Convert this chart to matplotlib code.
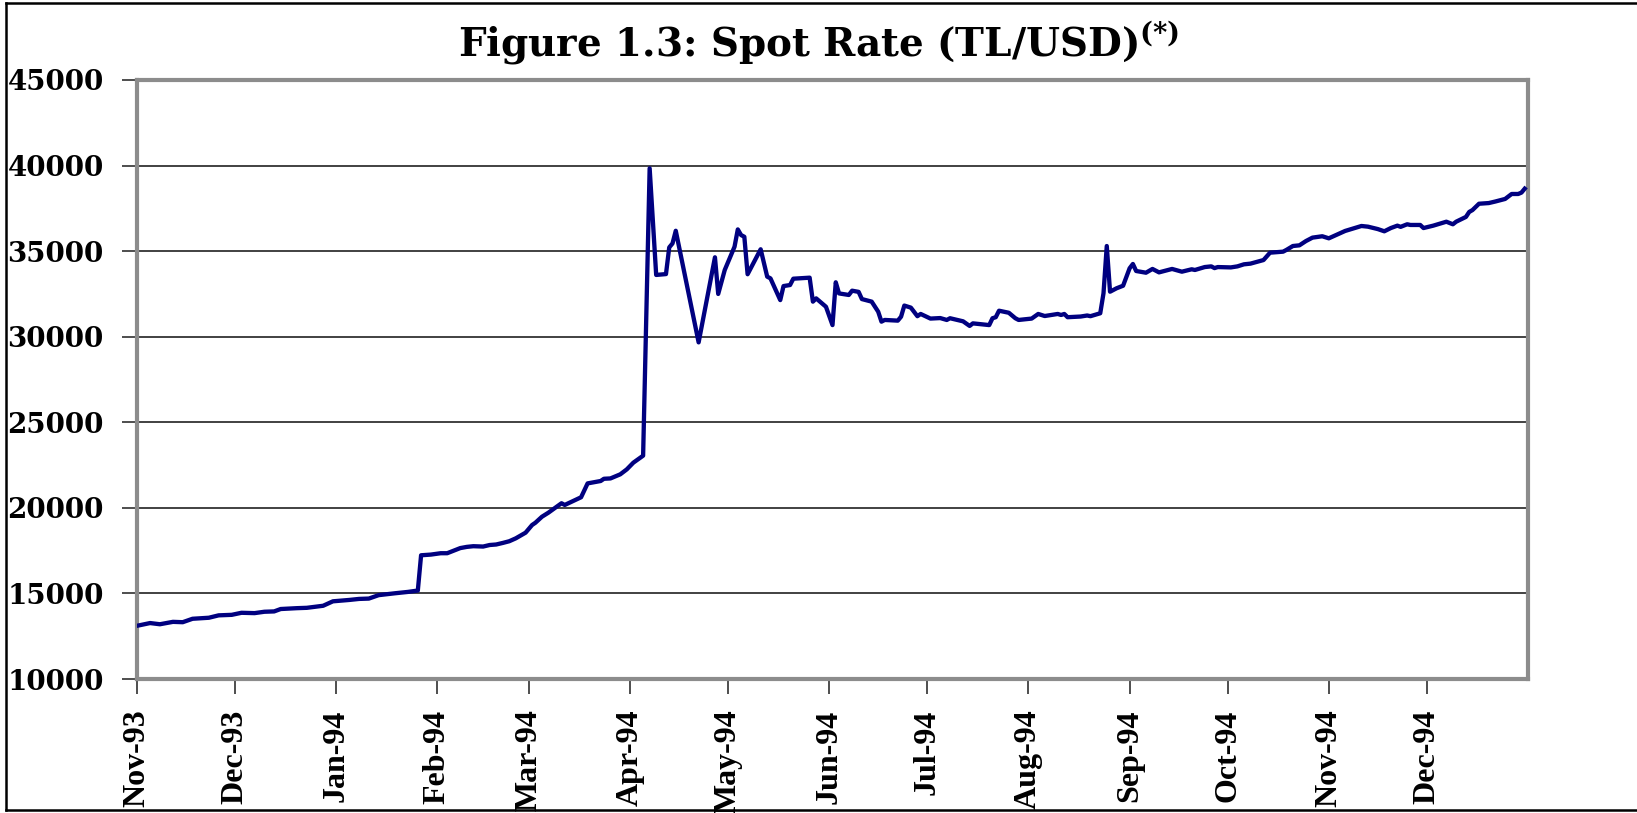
import numpy as np
import matplotlib.pyplot as plt
import matplotlib.dates as mdates
from matplotlib.lines import Line2D

plt.rcParams['mathtext.fontset'] = 'dejavuserif'

# days counted from 1 Nov 1993, spot rate in TL per USD
start = np.datetime64('1993-11-01')
day = [0, 4, 7, 11, 14, 17, 22, 25, 29, 32, 36, 39, 42, 44, 49, 52, 57, 60,
       65, 68, 71, 74, 79, 83, 86, 87, 90, 93, 95, 99, 101, 103, 106, 108,
       110, 112, 114, 116, 119, 121, 122, 124, 126, 130, 131, 136, 138, 142,
       143, 145, 148, 150, 152, 155, 157, 159, 162, 163, 164, 165, 172, 177,
       178, 180, 183, 184, 185, 186, 187, 191, 193, 194, 197, 198, 200, 201,
       206, 207, 208, 211, 213, 214, 215, 218, 219, 221, 222, 225, 227, 228,
       229, 233, 234, 235, 237, 239, 240, 243, 246, 248, 249, 253, 255, 256,
       261, 262, 263, 264, 267, 269, 270, 274, 276, 278, 282, 283, 284, 285,
       289, 291, 292, 295, 296, 297, 298, 300, 302, 304, 305, 306, 309, 311,
       313, 317, 320, 323, 324, 327, 329, 330, 331, 335, 337, 339, 341, 345,
       347, 351, 352, 354, 356, 358, 360, 363, 365, 367, 370, 375, 377, 380,
       382, 384, 386, 387, 389, 390, 393, 394, 397, 401, 403, 404, 407, 408,
       409, 411, 414, 416, 419, 421, 423, 424, 425]
rate = [13110, 13270, 13200, 13340, 13320, 13520, 13580, 13720, 13750, 13870,
        13850, 13930, 13950, 14090, 14140, 14160, 14280, 14540, 14620, 14680,
        14700, 14900, 15010, 15090, 15170, 17230, 17270, 17350, 17350, 17650,
        17720, 17760, 17740, 17830, 17860, 17950, 18050, 18220, 18550, 19000,
        19130, 19480, 19720, 20270, 20170, 20620, 21430, 21570, 21700, 21720,
        21960, 22250, 22640, 23050, 39840, 33610, 33660, 35220, 35450, 36190,
        29670, 34640, 32500, 33900, 35260, 36270, 35940, 35840, 33650, 35110,
        33510, 33410, 32140, 32960, 33020, 33390, 33450, 32050, 32240, 31750,
        30680, 33180, 32530, 32440, 32690, 32620, 32200, 32050, 31460, 30880,
        30980, 30940, 31170, 31820, 31700, 31200, 31330, 31060, 31090, 30980,
        31080, 30900, 30630, 30780, 30680, 31080, 31140, 31520, 31400, 31080,
        30980, 31060, 31330, 31210, 31330, 31270, 31330, 31140, 31180, 31240,
        31200, 31370, 32540, 35300, 32630, 32830, 32980, 34000, 34250, 33840,
        33740, 33960, 33760, 33960, 33800, 33940, 33900, 34070, 34110, 34010,
        34070, 34050, 34110, 34230, 34270, 34480, 34910, 34970, 35070, 35300,
        35340, 35590, 35790, 35870, 35750, 35920, 36180, 36470, 36430, 36290,
        36160, 36350, 36490, 36420, 36570, 36530, 36530, 36350, 36490, 36720,
        36570, 36720, 37000, 37290, 37400, 37770, 37810, 37900, 38050, 38340,
        38340, 38420, 38650]
y_ticks = [10000, 15000, 20000, 25000, 30000, 35000, 40000, 45000]
months = np.arange('1993-11', '1995-01', dtype='datetime64[M]')

dates = start + np.array(day).astype('timedelta64[D]')

fig = plt.figure(figsize=(16.37, 8.13), dpi=100)
ax = fig.add_axes([0.0837, 0.1648, 0.8497, 0.7368])

ax.plot(dates, rate, color='#000080', lw=3.1, zorder=3)

ax.set_xlim(start, np.datetime64('1995-01-01'))
ax.set_ylim(10000, 45000)
ax.set_yticks(y_ticks)
ax.set_xticks(months.astype('datetime64[D]'))
ax.xaxis.set_major_formatter(mdates.DateFormatter('%b-%y'))
ax.yaxis.grid(True, color='#333333', lw=1.3)
ax.set_axisbelow(True)

for s in ax.spines.values():
    s.set_color('#8c8c8c')
    s.set_linewidth(3)

ax.tick_params(axis='both', direction='out', length=11, width=1.3, color='#404040')
ax.tick_params(axis='y', pad=13)
ax.tick_params(axis='x', pad=11)
for lab in ax.get_yticklabels():
    lab.set_fontfamily('DejaVu Serif')
    lab.set_fontweight('bold')
    lab.set_fontsize(20)
for lab in ax.get_xticklabels():
    lab.set_fontfamily('Liberation Serif')
    lab.set_fontweight('bold')
    lab.set_fontsize(23)
    lab.set_rotation(90)

fig.text(0.5, 0.947, r'Figure 1.3: Spot Rate (TL/USD)$^{\mathbf{(*)}}$',
         ha='center', va='center', fontsize=28, fontweight='bold',
         family='DejaVu Serif')

# outer frame (open on the right)
for xs, ys in [([0.0037, 1.0], [0.9963, 0.9963]),
               ([0.0037, 0.0037], [0.0037, 0.9963]),
               ([0.0037, 1.0], [0.0037, 0.0037])]:
    fig.add_artist(Line2D(xs, ys, color='black', lw=1.8, transform=fig.transFigure))

fig.savefig('out.png', dpi=100)
